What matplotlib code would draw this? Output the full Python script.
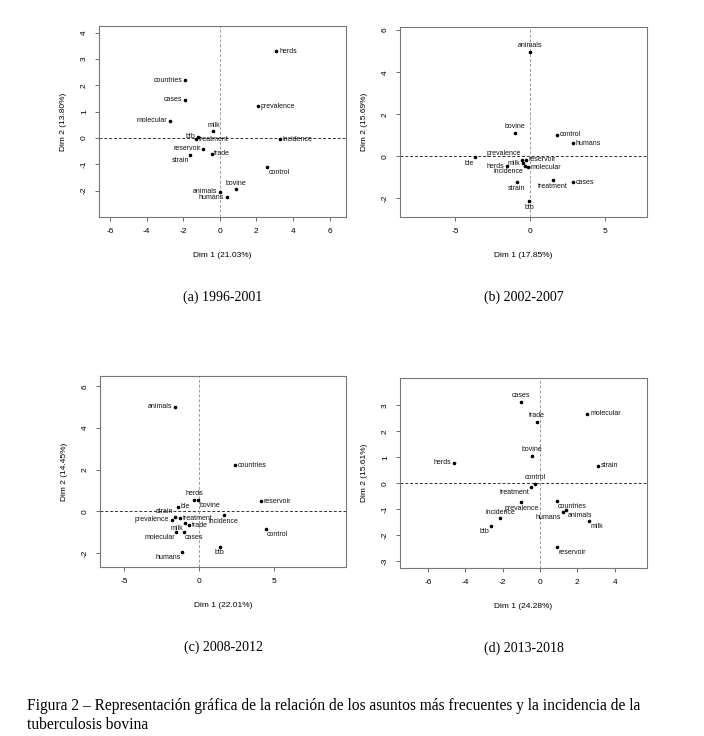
import matplotlib
matplotlib.use("Agg")
import matplotlib.pyplot as plt

plt.rcParams["axes.unicode_minus"] = False

W, H = 704, 736

# ---- data ----
labels_a = ["herds", "countries", "cases", "prevalence", "molecular", "milk", "btb", "treatment",
            "incidence", "reservoir", "trade", "strain", "control", "animals", "bovine", "humans"]
x_a = [3.1, -1.9, -1.9, 2.1, -2.7, -0.35, -1.2, -1.3, 3.3, -0.9, -0.45, -1.6, 2.6, 0.0, 0.9, 0.4]
y_a = [3.3, 2.2, 1.45, 1.2, 0.65, 0.25, 0.05, -0.05, -0.05, -0.4, -0.6, -0.65, -1.1, -2.05, -1.95, -2.25]
pos_a = ["r", "l", "l", "r", "l", "t", "l", "r", "r", "l", "r", "bl", "br", "l", "t", "l"]

labels_b = ["animals", "bovine", "control", "humans", "ble", "prevalence", "reservoir", "milk",
            "herds", "molecular", "incidence", "strain", "treatment", "cases", "btb"]
x_b = [0.0, -1.0, 1.78, 2.84, -3.67, -0.56, -0.27, -0.49, -1.56, -0.18, -0.35, -0.89, 1.51, 2.84, -0.07]
y_b = [4.96, 1.1, 1.03, 0.63, -0.05, -0.15, -0.17, -0.33, -0.46, -0.52, -0.45, -1.22, -1.14, -1.22, -2.11]
pos_b = ["t", "t", "r", "r", "bl", "tl", "r", "l", "l", "r", "bl", "b", "b", "r", "b"]

labels_c = ["animals", "countries", "herds", "bovine", "reservoir", "ble", "strain", "treatment",
            "incidence", "prevalence", "milk", "trade", "molecular", "cases", "control", "btb", "humans"]
x_c = [-1.58, 2.41, -0.34, -0.07, 4.1, -1.4, -1.62, -1.28, 1.64, -1.8, -0.95, -0.68, -1.51, -1.01, 4.44, 1.37, -1.13]
y_c = [5.02, 2.21, 0.57, 0.54, 0.49, 0.22, -0.25, -0.33, -0.17, -0.41, -0.54, -0.67, -1.0, -1.0, -0.84, -1.69, -1.96]
pos_c = ["l", "r", "t", "br", "r", "r", "tl", "r", "b", "l", "bl", "r", "bl", "br", "br", "b", "bl"]

labels_d = ["cases", "molecular", "trade", "bovine", "herds", "strain", "control", "treatment",
            "prevalence", "countries", "humans", "animals", "incidence", "milk", "btb", "reservoir"]
x_d = [-1.0, 2.54, -0.14, -0.45, -4.59, 3.09, -0.25, -0.48, -1.0, 0.89, 1.21, 1.39, -2.14, 2.63, -2.63, 0.91]
y_d = [3.14, 2.68, 2.37, 1.05, 0.79, 0.68, -0.03, -0.15, -0.73, -0.68, -1.09, -1.03, -1.35, -1.44, -1.63, -2.46]
pos_d = ["t", "r", "t", "t", "l", "r", "t", "bl", "b", "br", "bl", "br", "t", "br", "bl", "br"]

panels = [
    # (labels, x, y, pos, xlim, ylim, xticks, yticks, xlabel, ylabel, box px (l, t, r, b), caption)
    (labels_a, x_a, y_a, pos_a, (-6.6, 6.9), (-3.0, 4.25), [-6, -4, -2, 0, 2, 4, 6], [-2, -1, 0, 1, 2, 3, 4],
     "Dim 1 (21.03%)", "Dim 2 (13.80%)", (99, 26, 346, 217), "(a) 1996-2001"),
    (labels_b, x_b, y_b, pos_b, (-8.7, 7.8), (-2.88, 6.15), [-5, 0, 5], [-2, 0, 2, 4, 6],
     "Dim 1 (17.85%)", "Dim 2 (15.69%)", (400, 27, 647, 217), "(b) 2002-2007"),
    (labels_c, x_c, y_c, pos_c, (-6.6, 9.8), (-2.67, 6.5), [-5, 0, 5], [-2, 0, 2, 4, 6],
     "Dim 1 (22.01%)", "Dim 2 (14.45%)", (100, 376, 346, 567), "(c) 2008-2012"),
    (labels_d, x_d, y_d, pos_d, (-7.5, 5.73), (-3.26, 4.05), [-6, -4, -2, 0, 2, 4], [-3, -2, -1, 0, 1, 2, 3],
     "Dim 1 (24.28%)", "Dim 2 (15.61%)", (400, 378, 647, 568), "(d) 2013-2018"),
]

offsets = {"r": (2, 0, "left", "center"), "l": (-2, 0, "right", "center"),
           "t": (0, 2, "center", "bottom"), "b": (0, -2, "center", "top"),
           "tl": (-1, 1.5, "right", "bottom"), "bl": (-1, -1.5, "right", "top"),
           "br": (1, -1.5, "left", "top"), "tr": (1, 1.5, "left", "bottom")}

SANS = ["Liberation Sans Narrow", "Liberation Sans", "DejaVu Sans"]
SERIF = ["Liberation Serif", "DejaVu Serif"]

fig = plt.figure(figsize=(W / 100, H / 100), dpi=100)

for labels, xs, ys, pos, xlim, ylim, xt, yt, xl, yl, (l, t, r, b), cap in panels:
    ax = fig.add_axes([l / W, 1 - b / H, (r - l) / W, (b - t) / H])
    ax.scatter(xs, ys, s=2.5, color="black", zorder=3)
    for name, px, py, p in zip(labels, xs, ys, pos):
        dx, dy, ha, va = offsets[p]
        ax.annotate(name, (px, py), xytext=(dx, dy), textcoords="offset points",
                    ha=ha, va=va, fontsize=5, family=SANS, color="#111111")
    ax.axhline(0, color="#333333", linestyle=(0, (3, 2)), linewidth=0.7)
    ax.axvline(0, color="#999999", linestyle=(0, (3, 2)), linewidth=0.7)
    ax.set_xlim(*xlim)
    ax.set_ylim(*ylim)
    ax.set_xticks(xt)
    ax.set_yticks(yt)
    ax.tick_params(labelsize=6, length=3, width=0.6, color="#555555", pad=5)
    for lab in ax.get_yticklabels():
        lab.set_rotation(90)
        lab.set_va("center")
        lab.set_family(SANS)
    for lab in ax.get_xticklabels():
        lab.set_family(SANS)
    for sp in ax.spines.values():
        sp.set_color("#777777")
        sp.set_linewidth(0.8)
    ax.set_xlabel(xl, fontsize=6, family=SANS, labelpad=12)
    ax.set_ylabel(yl, fontsize=6, family=SANS, labelpad=10)
    cx = (l + r) / 2
    fig.text(cx / W, 1 - (b + 80) / H, cap, ha="center", va="center", fontsize=10, family=SERIF)

fig.text(27 / W, 1 - 706 / H, "Figura 2 \u2013 Representación gráfica de la relación de los asuntos más frecuentes y la incidencia de la",
         ha="left", va="center", fontsize=11.2, family=SERIF)
fig.text(27 / W, 1 - 725 / H, "tuberculosis bovina", ha="left", va="center", fontsize=11.2, family=SERIF)

fig.savefig("out.png", dpi=100)
